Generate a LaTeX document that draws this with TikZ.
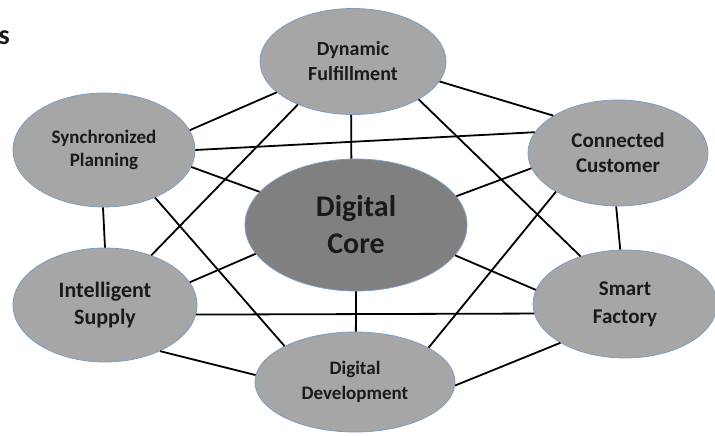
\documentclass[tikz,border=0pt]{standalone}
\usepackage{fontspec}
\setmainfont{Carlito}
\usetikzlibrary{shapes.geometric}
\definecolor{bubblefill}{HTML}{A6A6A6}
\definecolor{corefill}{HTML}{808080}
\definecolor{rim}{HTML}{7F9DBF}
\definecolor{ink}{HTML}{1A1A1A}
\begin{document}
\begin{tikzpicture}[x=1pt,y=1pt,
  bubble/.style={ellipse, draw=rim, line width=0.8pt, fill=bubblefill,
    inner sep=0pt, text=ink, align=center},
  link/.style={line width=1.8pt, black}]
\useasboundingbox (0,0) rectangle (715,436);

% fragment of a heading running off the left edge
\node[anchor=base east, inner sep=0pt, text=ink,
  font=\bfseries\fontsize{28}{34}\selectfont] (head) at (10,391) {s};

% outer ring
\node[bubble, minimum width=186, minimum height=106,
  font=\bfseries\fontsize{20}{25}\selectfont] (df) at (353,374.5) {Dynamic\\Fulfillment};
\node[bubble, minimum width=182, minimum height=114,
  font=\bfseries\fontsize{19}{23}\selectfont] (sp) at (104,286) {Synchronized\\Planning};
\node[bubble, minimum width=184, minimum height=114,
  font=\bfseries\fontsize{22}{27}\selectfont] (is) at (105,131) {Intelligent\\Supply};
\node[bubble, minimum width=180, minimum height=106,
  font=\bfseries\fontsize{21}{25}\selectfont] (cc) at (618,283) {Connected\\Customer};
\node[bubble, minimum width=184, minimum height=108,
  font=\bfseries\fontsize{21}{28}\selectfont] (sf) at (625,132) {Smart\\Factory};
\node[bubble, minimum width=200, minimum height=100,
  font=\bfseries\fontsize{19}{25}\selectfont] (dd) at (355,54) {Digital\\Development};

% centre
\node[bubble, fill=corefill, minimum width=222, minimum height=132,
  font=\bfseries\fontsize{30}{37}\selectfont] (core) at (356,211) {Digital\\Core};

% connections
\draw[link] (df.202) -- (sp.13);
\draw[link] (df.218) -- (is.47);
\draw[link] (df.268) -- (core.94);
\draw[link] (df.347) -- (cc.150);
\draw[link] (df.330) -- (sf.133);
\draw[link] (sp.0) -- (cc.166);
\draw[link] (sp.349) -- (core.161);
\draw[link] (sp.317) -- (dd.153);
\draw[link] (sp.269) -- (is.90);
\draw[link] (is.15) -- (core.196);
\draw[link] (is.354) -- (sf.186);
\draw[link] (is.320) -- (dd.176);
\draw[link] (cc.190) -- (core.16);
\draw[link] (cc.212) -- (dd.25);
\draw[link] (cc.268) -- (sf.95);
\draw[link] (sf.171) -- (core.343);
\draw[link] (sf.211) -- (dd.358);
\draw[link] (dd.89) -- (core.270);
\end{tikzpicture}
\end{document}
